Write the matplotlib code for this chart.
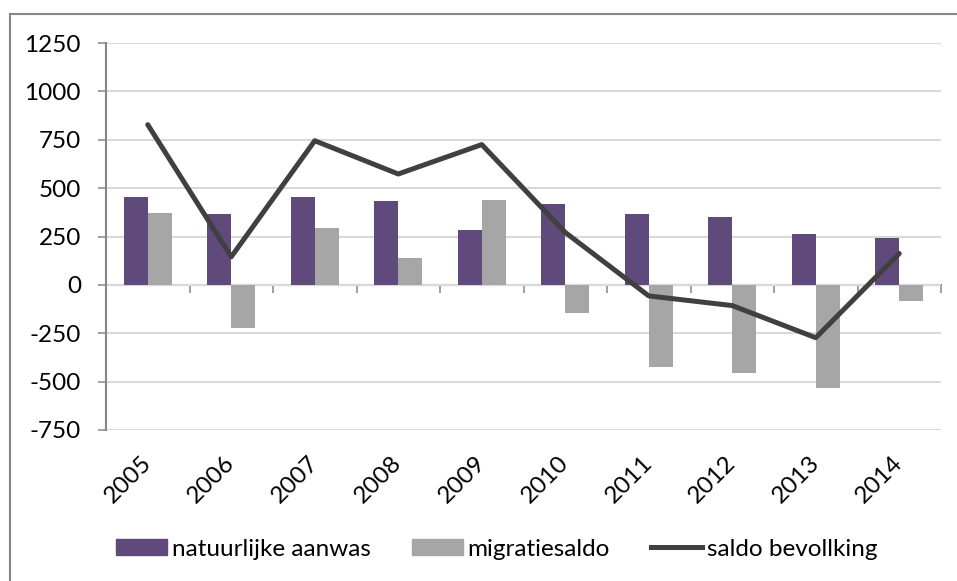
import numpy as np
import matplotlib.pyplot as plt
from matplotlib.lines import Line2D
from matplotlib.patches import Patch

years = ['2005', '2006', '2007', '2008', '2009', '2010', '2011', '2012', '2013', '2014']
natuurlijke_aanwas = [455, 367, 452, 435, 285, 418, 366, 350, 262, 243]
migratiesaldo = [373, -222, 293, 138, 440, -147, -423, -457, -535, -81]
saldo_bevolking = [828, 145, 745, 573, 725, 271, -57, -107, -273, 162]
yticks = [-750, -500, -250, 0, 250, 500, 750, 1000, 1250]

purple = '#604a7b'
grey = '#a6a6a6'
dark = '#404040'
axis_col = '#868686'

plt.rcParams['font.family'] = ['Lato', 'DejaVu Sans']

fig = plt.figure(figsize=(9.57, 5.81), dpi=100)
ax = fig.add_axes([106 / 957, 1 - 430 / 581, 835 / 957, 387 / 581])

x = np.arange(len(years))
w = 0.29
ax.bar(x - w / 2, natuurlijke_aanwas, w, color=purple, zorder=3)
ax.bar(x + w / 2, migratiesaldo, w, color=grey, zorder=3)
ax.plot(x, saldo_bevolking, color=dark, lw=3.6, zorder=4, solid_capstyle='round')

ax.set_xlim(-0.5, len(years) - 0.5)
ax.set_ylim(-750, 1250)
ax.set_yticks(yticks)
ax.set_yticklabels([str(v) for v in yticks])
ax.grid(axis='y', color='#d9d9d9', lw=1.5, zorder=0)
ax.set_axisbelow(True)

for s in ['top', 'right', 'bottom']:
    ax.spines[s].set_visible(False)
ax.spines['left'].set_color(axis_col)
ax.spines['left'].set_linewidth(1.5)
ax.tick_params(axis='y', length=6, width=1.1, color=axis_col, pad=12, labelsize=17.5)

ax.set_xticks(x)
ax.set_xticklabels(years, rotation=45, ha='right', rotation_mode='anchor', va='center')
ax.tick_params(axis='x', length=0, pad=21, labelsize=17.5)

# category axis drawn at zero
zero_loc = (0 - yticks[0]) / (yticks[-1] - yticks[0])
sec = ax.secondary_xaxis(zero_loc)
sec.set_xticks(np.arange(len(years) + 1) - 0.5)
sec.set_xticklabels([])
sec.tick_params(length=6, width=1.1, color=axis_col, direction='out')
sec.spines['bottom'].set_color(axis_col)
sec.spines['bottom'].set_linewidth(1.5)

handles = [Patch(color=purple), Patch(color=grey), Line2D([], [], color=dark, lw=3.6)]
labels = ['natuurlijke aanwas', 'migratiesaldo', 'saldo bevollking']
fig.legend(handles, labels, loc='center', bbox_to_anchor=(0.519, 1 - 549 / 581), ncol=3,
           frameon=False, fontsize=17.5, handlelength=2.1, handleheight=0.6,
           handletextpad=0.2, columnspacing=1.7)

# outer chart border (left and top visible)
fig.add_artist(Line2D([9.5 / 957, 9.5 / 957], [0, 1 - 13.5 / 581], color=axis_col, lw=1.5))
fig.add_artist(Line2D([9.5 / 957, 1], [1 - 13.5 / 581, 1 - 13.5 / 581], color=axis_col, lw=1.5))

fig.savefig('out.png', dpi=100)
